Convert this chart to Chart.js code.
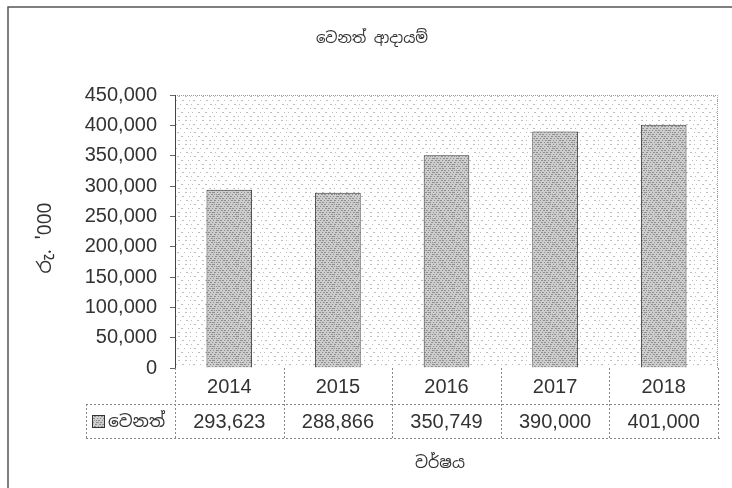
<!DOCTYPE html>
<html>
<head>
<meta charset="utf-8">
<script src="https://cdn.jsdelivr.net/npm/chart.js@4.4.0/dist/chart.umd.min.js"></script>
<style>
  html, body { margin: 0; padding: 0; background: #fff; }
  #wrap { width: 732px; height: 488px; }
</style>
</head>
<body>
<div id="wrap"><canvas id="chart" width="732" height="488"></canvas></div>
<script>
// ---- data ----
const years = ["2014", "2015", "2016", "2017", "2018"];
const otherIncome = [293623, 288866, 350749, 390000, 401000];
const seriesName = "වෙනත්";
const chartTitle = "වෙනත් ආදායම්";
const xTitle = "වර්ෂය";
const yTitle = "රු. '000";

const FONT = "'Liberation Sans', Arial, sans-serif";
const SINHALA = "'Noto Sans Sinhala', 'Iskoola Pota', 'Noto Sans', sans-serif";

// stippled textures
function stipple(base, dot, step) {
  const c = document.createElement("canvas");
  c.width = 24; c.height = 24;
  const g = c.getContext("2d");
  g.fillStyle = base; g.fillRect(0, 0, 24, 24);
  g.fillStyle = dot;
  for (let y = 0; y < 24; y += step) {
    for (let x = 0; x < 24; x += step) {
      const ox = ((y * 7 + x * 3) % 5) - 2;
      g.fillRect((x + ox + 24) % 24, y, 1, 1);
    }
  }
  return g.createPattern(c, "repeat");
}
const plotBg = stipple("#ffffff", "#bdbdbd", 4);
const barFill = stipple("#cdcdcd", "#8f8f8f", 2);

function fmt(v) { return v.toLocaleString("en-US"); }

const decor = {
  id: "decor",
  beforeDraw(chart) {
    const { ctx, chartArea: a } = chart;
    ctx.save();
    ctx.fillStyle = "#fff";
    ctx.fillRect(0, 0, chart.width, chart.height);
    // outer frame (runs off the right and bottom)
    ctx.strokeStyle = "#555";
    ctx.lineWidth = 1.5;
    ctx.beginPath();
    ctx.moveTo(8, chart.height);
    ctx.lineTo(8, 7);
    ctx.lineTo(chart.width, 7);
    ctx.stroke();
    // plot background
    ctx.fillStyle = plotBg;
    ctx.fillRect(a.left, a.top, a.right - a.left, a.bottom - a.top);
    ctx.strokeStyle = "#999";
    ctx.lineWidth = 1;
    ctx.setLineDash([1, 1]);
    ctx.beginPath();
    ctx.moveTo(a.left, a.top + 0.5);
    ctx.lineTo(a.right - 0.5, a.top + 0.5);
    ctx.lineTo(a.right - 0.5, a.bottom);
    ctx.stroke();
    ctx.restore();
  },
  afterDraw(chart) {
    const { ctx, chartArea: a, scales: { x } } = chart;
    const row1 = a.bottom + 36, row2 = a.bottom + 70;
    const legendLeft = 86;
    const half = (x.getPixelForValue(1) - x.getPixelForValue(0)) / 2;
    ctx.save();
    // table grid
    ctx.strokeStyle = "#888";
    ctx.lineWidth = 1;
    ctx.setLineDash([2, 2]);
    ctx.beginPath();
    ctx.moveTo(legendLeft, row1 + 0.5); ctx.lineTo(a.right + 2, row1 + 0.5);
    ctx.moveTo(legendLeft, row2 + 0.5); ctx.lineTo(a.right + 2, row2 + 0.5);
    ctx.moveTo(legendLeft + 0.5, row1); ctx.lineTo(legendLeft + 0.5, row2);
    for (let i = 0; i <= years.length; i++) {
      const px = Math.round(x.getPixelForValue(0) - half + i * 2 * half) + 0.5;
      ctx.moveTo(px, a.bottom); ctx.lineTo(px, row2);
    }
    ctx.stroke();
    ctx.setLineDash([]);
    // year row and value row
    ctx.fillStyle = "#333";
    ctx.font = "20px " + FONT;
    ctx.textAlign = "center";
    ctx.textBaseline = "middle";
    years.forEach((yr, i) => {
      const px = x.getPixelForValue(i);
      ctx.fillText(yr, px, (a.bottom + row1) / 2 + 1);
      ctx.fillText(fmt(otherIncome[i]), px, (row1 + row2) / 2 + 1);
    });
    // legend key
    const ky = (row1 + row2) / 2;
    ctx.fillStyle = barFill;
    ctx.fillRect(legendLeft + 6, ky - 6, 12, 12);
    ctx.strokeStyle = "#333";
    ctx.strokeRect(legendLeft + 6.5, ky - 5.5, 12, 12);
    ctx.fillStyle = "#333";
    ctx.textAlign = "left";
    ctx.font = "17px " + SINHALA;
    ctx.fillText(seriesName, legendLeft + 22, ky + 1);
    // titles
    ctx.textAlign = "center";
    ctx.font = "15px " + SINHALA;
    ctx.fillText(chartTitle, 372, 39);
    ctx.font = "16px " + SINHALA;
    ctx.fillText(xTitle, 440, 464);
    ctx.translate(46, 238);
    ctx.rotate(-Math.PI / 2);
    ctx.font = "19px " + SINHALA;
    ctx.fillText(yTitle, 0, 0);
    ctx.restore();
  }
};

new Chart(document.getElementById("chart"), {
  type: "bar",
  data: {
    labels: years,
    datasets: [{
      label: seriesName,
      data: otherIncome,
      backgroundColor: barFill,
      borderColor: "#333",
      borderWidth: 1,
      categoryPercentage: 1,
      barPercentage: 0.42
    }]
  },
  options: {
    responsive: false,
    animation: false,
    layout: { padding: { left: 0, top: 95, right: 14, bottom: 120 } },
    plugins: { legend: { display: false }, title: { display: false }, tooltip: { enabled: false } },
    scales: {
      x: {
        grid: { display: false },
        border: { display: false },
        ticks: { display: false },
        afterFit(s) { s.height = 0; }
      },
      y: {
        min: 0, max: 450000,
        ticks: { stepSize: 50000, color: "#333", font: { family: FONT, size: 20 }, padding: 13, callback: v => fmt(v) },
        grid: { drawOnChartArea: false, drawTicks: true, tickLength: 5, color: "#666" },
        border: { display: true, color: "#444", width: 1 },
        afterFit(s) { s.width = 175; }
      }
    }
  },
  plugins: [decor]
});
</script>
</body>
</html>
